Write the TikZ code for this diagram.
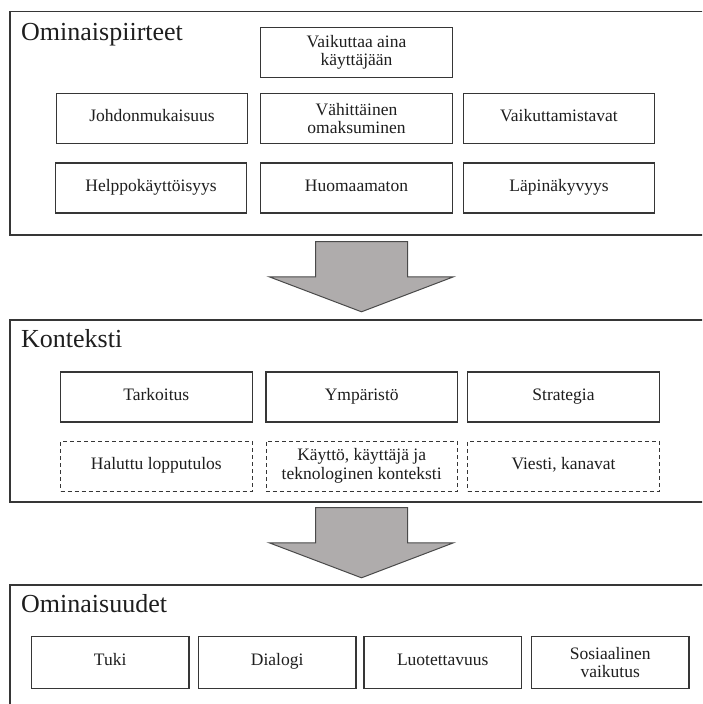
\documentclass[tikz,border=0pt]{standalone}
\usepackage{fontspec}
\setmainfont{Liberation Serif}
\usetikzlibrary{calc}
\definecolor{edge}{HTML}{363636}
\definecolor{txt}{HTML}{1E1E1E}
\definecolor{arrowfill}{HTML}{AFACAC}
\begin{document}
\begin{tikzpicture}[x=1pt,y=-1pt,
  every node/.style={text=txt},
  boxA/.style={draw=edge, line width=1.1pt, minimum width=191.5pt, minimum height=50pt, inner sep=2pt, align=center, font=\fontsize{17.5}{18.6}\selectfont},
  boxB/.style={boxA, minimum width=157.5pt, minimum height=52pt},
  dashbox/.style={boxA, line width=0.8pt, dash pattern=on 4pt off 3pt},
  oneline/.style={text height=0.66em, text depth=0pt},
  paneltitle/.style={anchor=base west, inner sep=0pt, font=\fontsize{26}{30}\selectfont},
  panel/.style={draw=edge, line width=1.2pt},
  blockarrow/.style={draw=edge!90, line width=1pt, fill=arrowfill, line join=miter}]
\useasboundingbox (0,0) rectangle (702,704);
\fill[white] (0,0) rectangle (702,704);
\clip (0,0) rectangle (702,704);
% panels
\draw[panel] (710,11.7) -- (10,11.7) -- (10,235) -- (710,235);
\draw[panel] (710,320) -- (10,320) -- (10,502) -- (710,502);
\draw[panel] (710,585) -- (10,585) -- (10,720);
% titles
\node[paneltitle] (t1) at (21,40.5) {Ominaispiirteet};
\node[paneltitle] (t2) at (21,347.5) {Konteksti};
\node[paneltitle] (t3) at (21,612) {Ominaisuudet};
% panel 1 boxes
\node[boxA] (b0) at (356.5,52.5) {Vaikuttaa aina\\käyttäjään};
\node[boxA, oneline] (b1) at (152,118.5) {Johdonmukaisuus};
\node[boxA] (b2) at (356.5,118.5) {Vähittäinen\\omaksuminen};
\node[boxA, oneline] (b3) at (559,118.5) {Vaikuttamistavat};
\node[boxA, oneline] (b4) at (151,188) {Helppokäyttöisyys};
\node[boxA, oneline] (b5) at (356.5,188) {Huomaamaton};
\node[boxA, oneline] (b6) at (559,188) {Läpinäkyvyys};
% panel 2 boxes
\node[boxA, oneline] (c1) at (156.3,397) {Tarkoitus};
\node[boxA, oneline] (c2) at (361.7,397) {Ympäristö};
\node[boxA, oneline] (c3) at (563.5,397) {Strategia};
\node[dashbox, oneline] (d1) at (156.3,466) {Haluttu lopputulos};
\node[dashbox] (d2) at (361.7,466) {Käyttö, käyttäjä ja\\teknologinen konteksti};
\node[dashbox, oneline] (d3) at (563.5,466) {Viesti, kanavat};
% panel 3 boxes
\node[boxB, oneline] (e1) at (110.2,662.5) {Tuki};
\node[boxB, oneline] (e2) at (277.2,662.5) {Dialogi};
\node[boxB, oneline] (e3) at (442.7,662.5) {Luotettavuus};
\node[boxB] (e4) at (610.2,662.5) {Sosiaalinen\\vaikutus};
% block arrows
\coordinate (a1) at (361.5,241.5);
\coordinate (a2) at (361.5,507.5);
\foreach \a in {a1,a2}{
  \draw[blockarrow] ($(\a)+(-46,0)$) -- ($(\a)+(46,0)$) -- ($(\a)+(46,35.3)$) -- ($(\a)+(92,35.3)$)
    -- ($(\a)+(0,70.3)$) -- ($(\a)+(-92.3,35.3)$) -- ($(\a)+(-46,35.3)$) -- cycle;
}
\end{tikzpicture}
\end{document}
